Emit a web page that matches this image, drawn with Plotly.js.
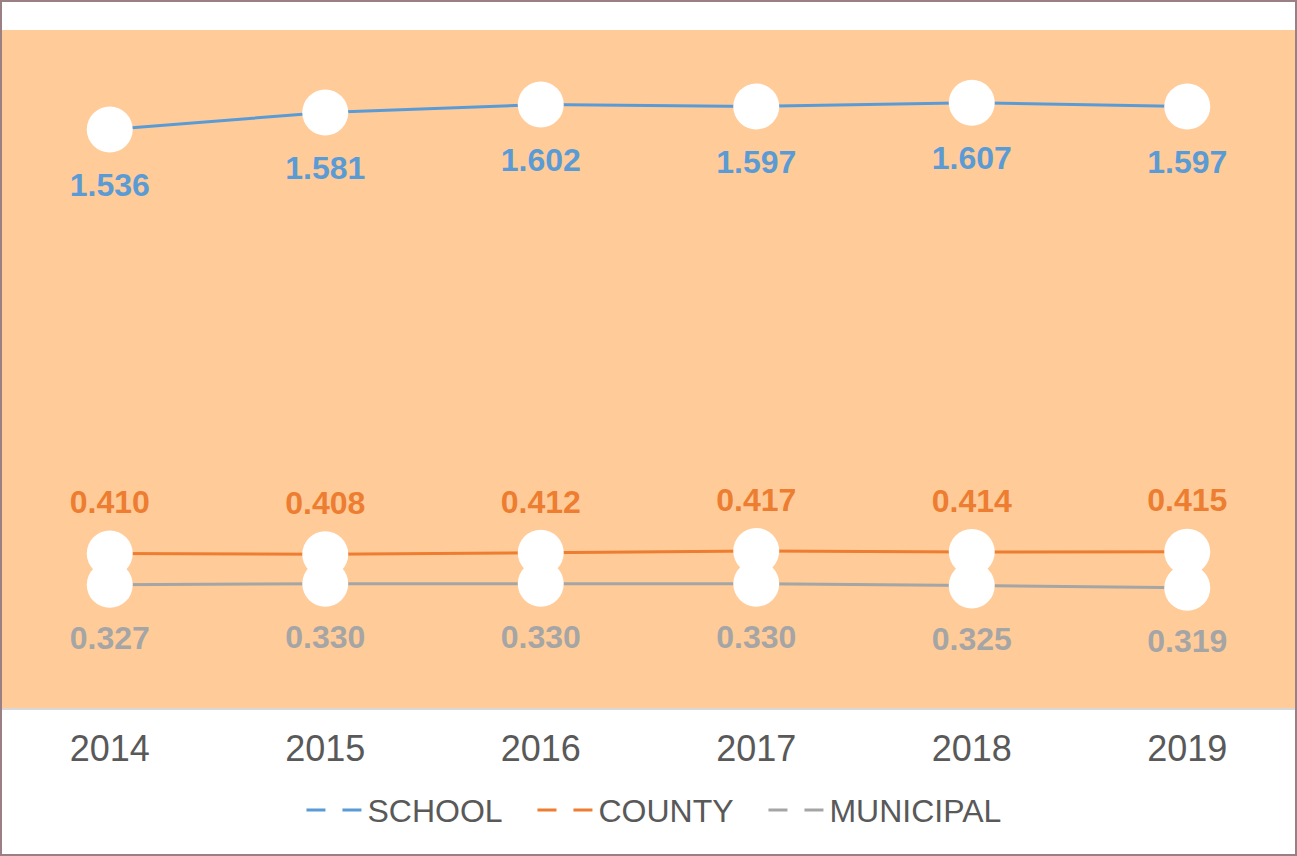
<!DOCTYPE html>
<html>
<head>
<meta charset="utf-8">
<script src="https://cdn.plot.ly/plotly-3.0.1.min.js"></script>
<style>
html,body{margin:0;padding:0;background:#fff;}
#wrap{width:1297px;height:856px;box-sizing:border-box;border:2px solid #9a8084;overflow:hidden;}
#chart{width:1293px;height:852px;}
</style>
</head>
<body>
<div id="wrap"><div id="chart"></div></div>
<script>
const years = ["2014","2015","2016","2017","2018","2019"];
const school = [1.536, 1.581, 1.602, 1.597, 1.607, 1.597];
const county = [0.410, 0.408, 0.412, 0.417, 0.414, 0.415];
const municipal = [0.327, 0.330, 0.330, 0.330, 0.325, 0.319];
const seriesNames = ["SCHOOL", "COUNTY", "MUNICIPAL"];
const colors = ["#5B9BD5", "#ED7D31", "#A5A5A5"];

const vals = [school, county, municipal];
const textPos = ["bottom center", "top center", "bottom center"];
const textGapSize = [66, 50, 63];
const traces = [];
vals.forEach((v, i) => {
  traces.push({
    x: years, y: v, type: "scatter", mode: "lines+markers",
    name: seriesNames[i], showlegend: false,
    line: {color: colors[i], width: 3},
    marker: {color: "#FFFFFF", size: 46, line: {width: 0}},
    cliponaxis: false, hoverinfo: "skip"
  });
});
vals.forEach((v, i) => {
  traces.push({
    x: years, y: v, type: "scatter", mode: "text+markers",
    name: seriesNames[i] + " labels", showlegend: false,
    marker: {color: "rgba(0,0,0,0)", size: textGapSize[i], line: {width: 0}},
    text: v.map(d => d.toFixed(3)),
    textposition: textPos[i],
    textfont: {family: "Liberation Sans, Arial, sans-serif", size: 32, color: colors[i], weight: "bold"},
    cliponaxis: false, hoverinfo: "skip"
  });
});
vals.forEach((v, i) => {
  traces.push({
    x: [null], y: [null], type: "scatter", mode: "lines",
    name: seriesNames[i], showlegend: true,
    line: {color: colors[i], width: 3, dash: "19px,17px"}
  });
});
// spacer entry so the last legend label is not clipped
traces.push({
  x: [null], y: [null], type: "scatter", mode: "lines",
  name: " ", showlegend: true, hoverinfo: "skip",
  line: {color: "rgba(0,0,0,0)", width: 0}
});

const layout = {
  width: 1293, height: 852,
  margin: {l: 0, r: 0, t: 28, b: 146},
  paper_bgcolor: "#FFFFFF",
  plot_bgcolor: "#FFCC99",
  showlegend: true,
  legend: {
    orientation: "h", x: 0.2316, xanchor: "left", y: -0.11, yanchor: "top",
    font: {family: "Liberation Sans, Arial, sans-serif", size: 32, color: "#595959"},
    itemwidth: 56, entrywidth: 160, traceorder: "normal"
  },
  xaxis: {
    type: "category", range: [-0.5, 5.5],
    showgrid: false, zeroline: false,
    showline: true, linecolor: "#D9D9D9", linewidth: 2,
    ticks: "", ticklabelstandoff: 8,
    tickfont: {family: "Liberation Sans, Arial, sans-serif", size: 36, color: "#595959"}
  },
  yaxis: {
    range: [0, 1.8], visible: false, showgrid: false, zeroline: false, fixedrange: true
  }
};
Plotly.newPlot("chart", traces, layout, {displayModeBar: false, staticPlot: true});
</script>
</body>
</html>
